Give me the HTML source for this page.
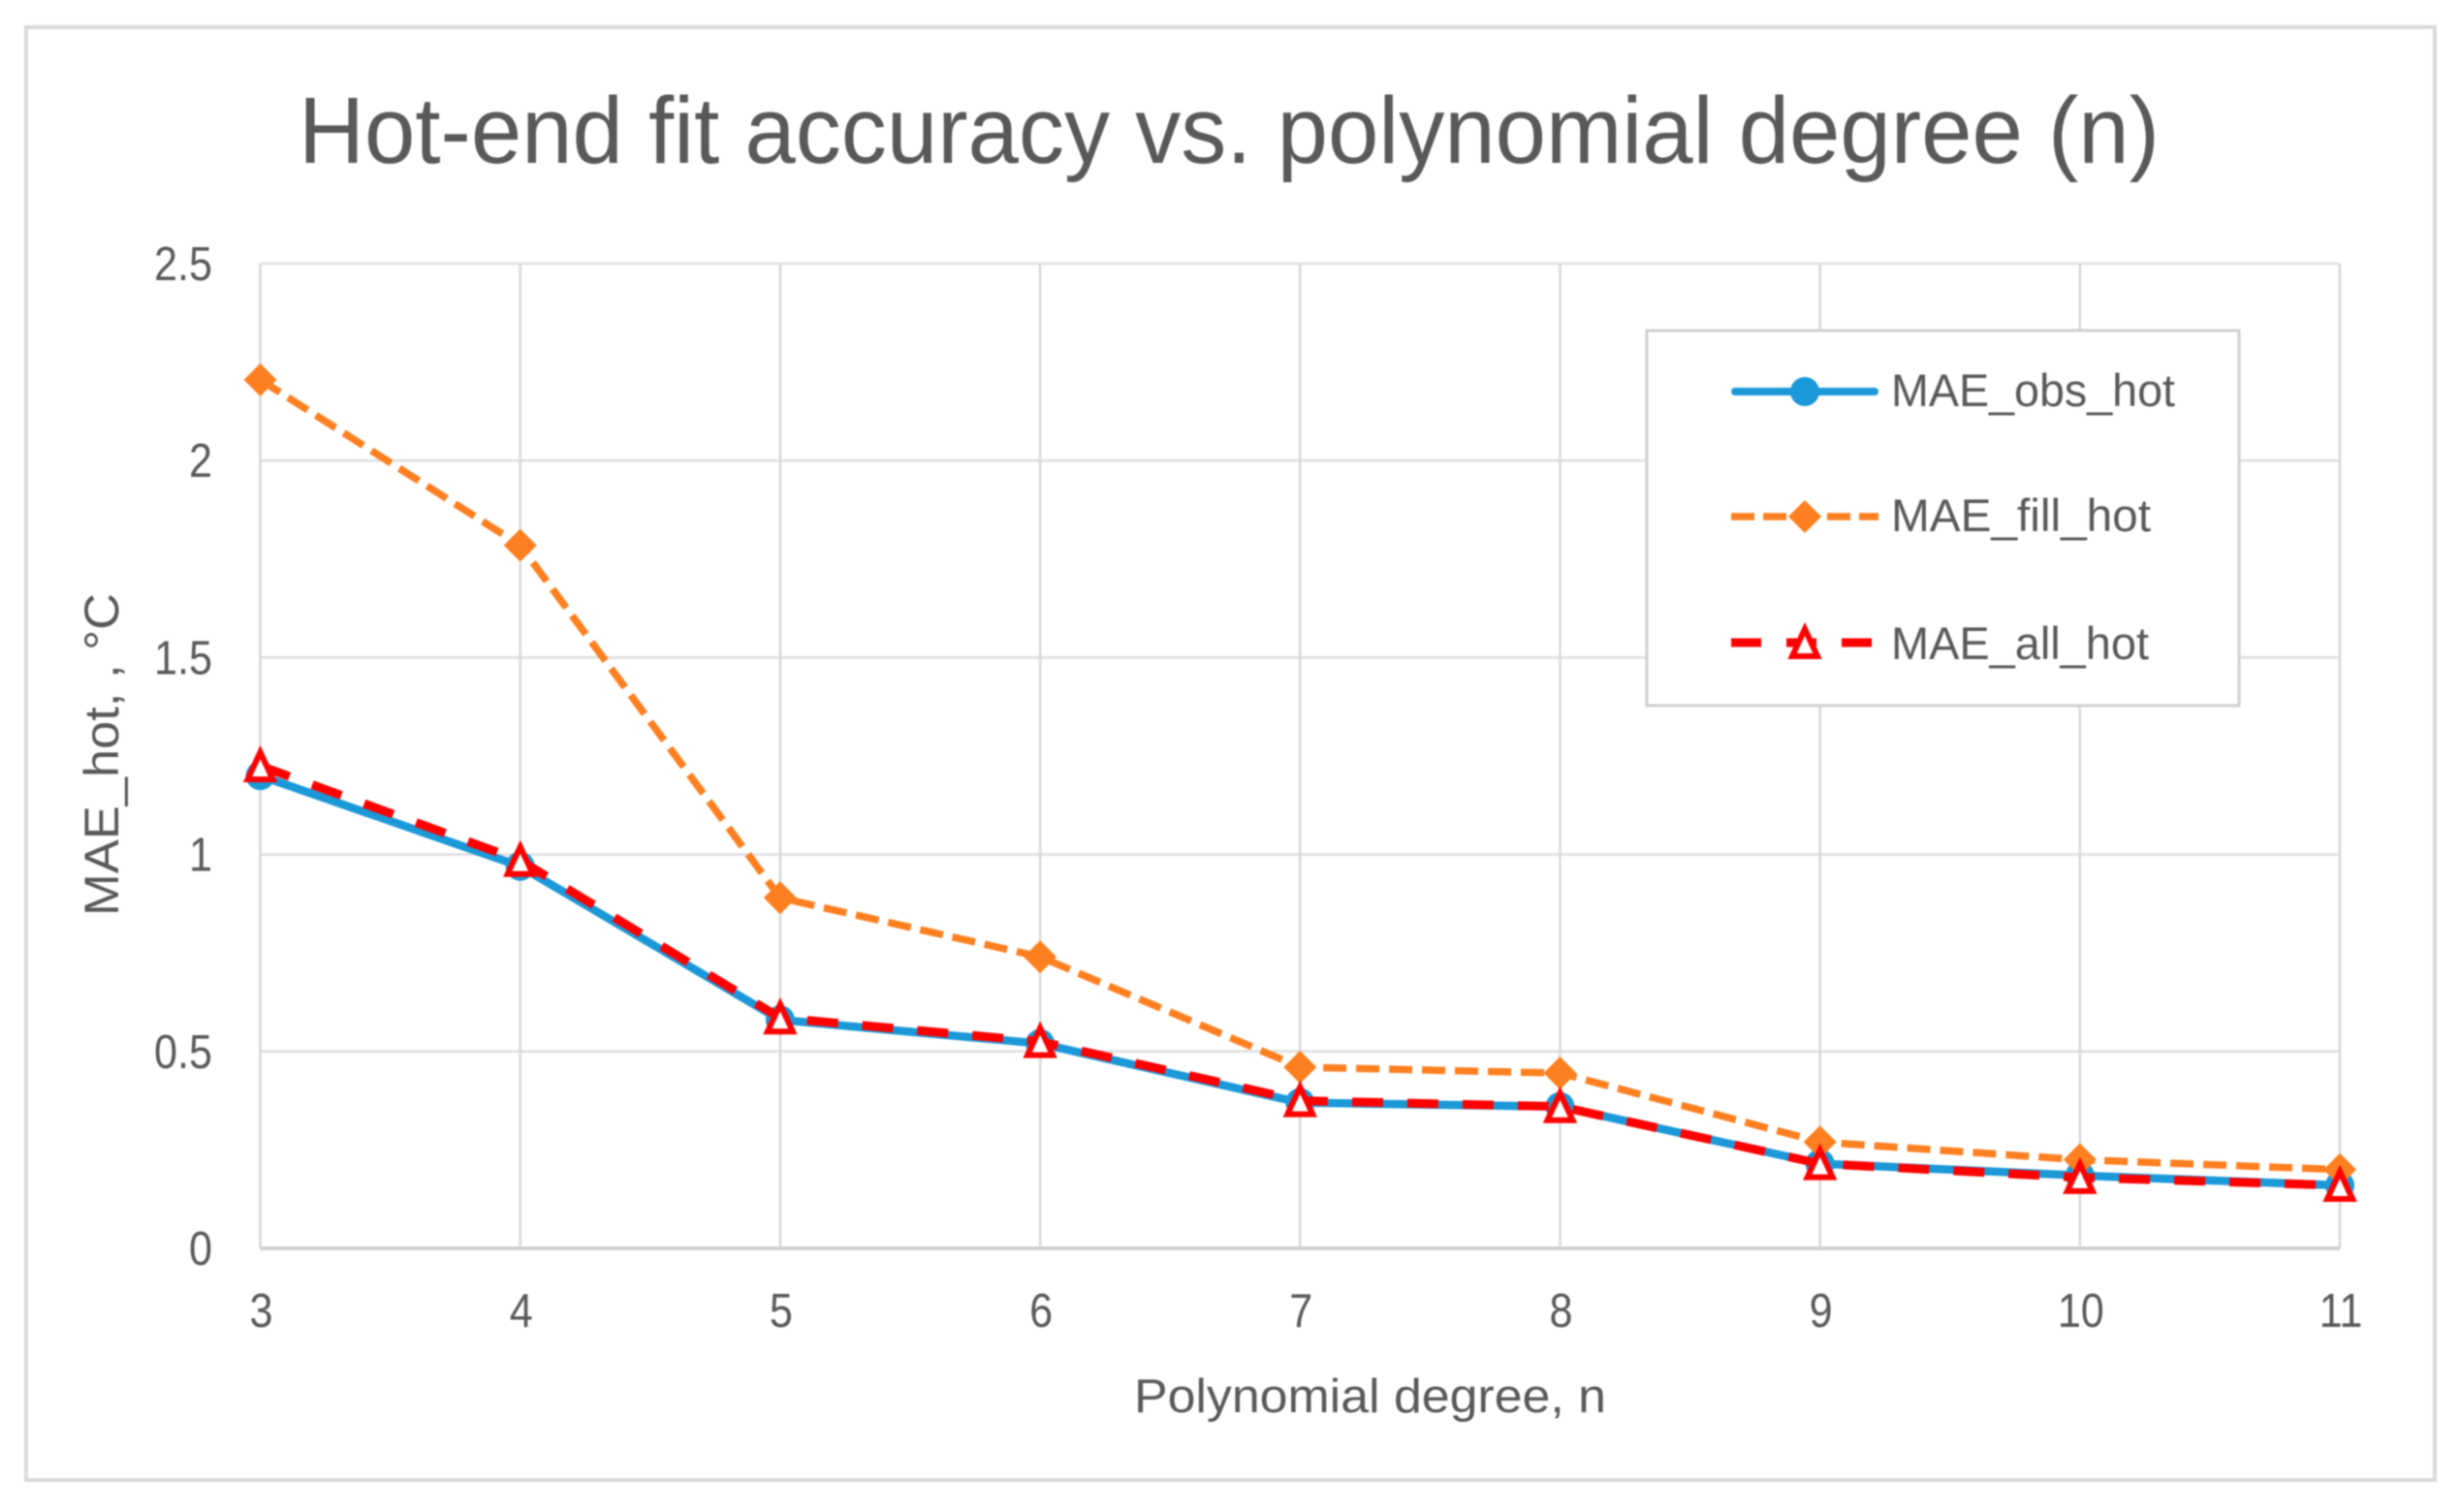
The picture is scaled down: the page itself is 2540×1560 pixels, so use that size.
<!DOCTYPE html>
<html>
<head>
<meta charset="utf-8">
<title>Hot-end fit accuracy vs. polynomial degree (n)</title>
<style>
html,body{margin:0;padding:0;background:#fff;width:2540px;height:1560px;overflow:hidden}
svg{display:block;filter:blur(0.7px)}
text{font-family:"Liberation Sans",sans-serif;fill:#595959}
</style>
</head>
<body>
<svg id="chart" xmlns="http://www.w3.org/2000/svg" width="2540" height="1560" viewBox="0 0 2540 1560">
  <rect x="27" y="28" width="2485" height="1499" fill="#fff" stroke="#d9d9d9" stroke-width="4"/>
  <text x="308" y="168" font-size="97" textLength="1920" lengthAdjust="spacingAndGlyphs">Hot-end fit accuracy vs. polynomial degree (n)</text>
  <g id="grid"></g>
  <g id="yticks"></g>
  <g id="xticks"></g>
  <text x="1170" y="1457" font-size="49" textLength="487" lengthAdjust="spacingAndGlyphs">Polynomial degree, n</text>
  <text transform="translate(122 945) rotate(-90)" font-size="50" textLength="333" lengthAdjust="spacingAndGlyphs">MAE_hot, , °C</text>
  <g id="series"></g>
  <g>
    <rect x="1699" y="341" width="611" height="387" fill="#fff" stroke="#cfcfcf" stroke-width="3"/>
    <g>
      <line x1="1790" y1="404" x2="1934" y2="404" stroke="#1b98d8" stroke-width="8" stroke-linecap="round"/>
      <circle cx="1862" cy="404" r="15" fill="#1b98d8"/>
      <text x="1951" y="419" font-size="47" textLength="293" lengthAdjust="spacingAndGlyphs">MAE_obs_hot</text>
    </g>
    <g>
      <line x1="1786" y1="533" x2="1938" y2="533" stroke="#fd7f20" stroke-width="7.5" stroke-dasharray="24 9"/>
      <polygon points="1862,516 1879,533 1862,550 1845,533" fill="#fd7f20"/>
      <text x="1951" y="548" font-size="47" textLength="268" lengthAdjust="spacingAndGlyphs">MAE_fill_hot</text>
    </g>
    <g>
      <line x1="1786" y1="663" x2="1933" y2="663" stroke="#ff0000" stroke-width="9" stroke-dasharray="31 26"/>
      <polygon points="1862,649 1875,677 1849,677" fill="#fff" stroke="#ff0000" stroke-width="6"/>
      <text x="1951" y="680" font-size="47" textLength="266" lengthAdjust="spacingAndGlyphs">MAE_all_hot</text>
    </g>
  </g>
</svg>
<script>
const degrees = [3, 4, 5, 6, 7, 8, 9, 10, 11];
const yTickValues = [0, 0.5, 1, 1.5, 2, 2.5];
const yTickLabels = ["0", "0.5", "1", "1.5", "2", "2.5"];
const maeObsHot = [1.2, 0.97, 0.58, 0.52, 0.37, 0.36, 0.215, 0.185, 0.16];
const maeFillHot = [2.205, 1.785, 0.89, 0.74, 0.46, 0.445, 0.27, 0.225, 0.2];
const maeAllHot = [1.225, 0.985, 0.585, 0.525, 0.375, 0.36, 0.215, 0.18, 0.16];

const NS = "http://www.w3.org/2000/svg";
const plotLeft = 268.5, plotRight = 2414, plotTop = 272, plotBottom = 1288;
const xMin = 3, xMax = 11, yMin = 0, yMax = 2.5;
function xScale(v) { return plotLeft + (v - xMin) / (xMax - xMin) * (plotRight - plotLeft); }
function yScale(v) { return plotBottom - (v - yMin) / (yMax - yMin) * (plotBottom - plotTop); }
function make(tag, attrs, parent) {
  const el = document.createElementNS(NS, tag);
  for (const k in attrs) el.setAttribute(k, attrs[k]);
  parent.appendChild(el);
  return el;
}
function narrow(t) {
  t.setAttribute("textLength", t.getComputedTextLength() * 0.88);
  t.setAttribute("lengthAdjust", "spacingAndGlyphs");
}
const grid = document.getElementById("grid");
const yticks = document.getElementById("yticks");
const xticks = document.getElementById("xticks");
const seriesGroup = document.getElementById("series");

yTickValues.forEach(function (v, i) {
  const isBase = v === yMin;
  const line = make("line", { x1: plotLeft, x2: plotRight, y1: yScale(v), y2: yScale(v), stroke: isBase ? "#d0d0d0" : "#dedede", "stroke-width": isBase ? 4 : 2.5 }, grid);
  
  
  const t = make("text", { x: 219, y: yScale(v) + 17, "text-anchor": "end", "font-size": 49 }, yticks);
  t.textContent = yTickLabels[i];
  
  
  narrow(t);
});

degrees.forEach(function (d) {
  const line = make("line", { x1: xScale(d), x2: xScale(d), y1: plotTop, y2: plotBottom, stroke: "#d8d8d8", "stroke-width": 2.5 }, grid);
  
  
  const t = make("text", { x: xScale(d) + 1, y: 1369, "text-anchor": "middle", "font-size": 49 }, xticks);
  t.textContent = String(d);
  
  
  narrow(t);
});

function pointString(values) {
  return values.map(function (v, i) { return xScale(degrees[i]) + "," + yScale(v); }).join(" ");
}

const obsLine = make("polyline", { points: pointString(maeObsHot), fill: "none", stroke: "#1b98d8", "stroke-width": 8.5, "stroke-linejoin": "round" }, seriesGroup);


maeObsHot.forEach(function (v, i) {
  const m = make("circle", { cx: xScale(degrees[i]), cy: yScale(v), r: 15, fill: "#1b98d8" }, seriesGroup);
  
  
});

const fillLine = make("polyline", { points: pointString(maeFillHot), fill: "none", stroke: "#fd7f20", "stroke-width": 7.5, "stroke-dasharray": "24 10" }, seriesGroup);


maeFillHot.forEach(function (v, i) {
  const cx = xScale(degrees[i]), cy = yScale(v);
  const m = make("polygon", { points: cx + "," + (cy - 17) + " " + (cx + 17) + "," + cy + " " + cx + "," + (cy + 17) + " " + (cx - 17) + "," + cy, fill: "#fd7f20" }, seriesGroup);
  
  
});

const allLine = make("polyline", { points: pointString(maeAllHot), fill: "none", stroke: "#ff0000", "stroke-width": 9, "stroke-dasharray": "32 25" }, seriesGroup);


maeAllHot.forEach(function (v, i) {
  const cx = xScale(degrees[i]), cy = yScale(v);
  const m = make("polygon", { points: cx + "," + (cy - 14) + " " + (cx + 13) + "," + (cy + 14) + " " + (cx - 13) + "," + (cy + 14), fill: "#fff", stroke: "#ff0000", "stroke-width": 6 }, seriesGroup);
  
  
});
</script>
</body>
</html>
